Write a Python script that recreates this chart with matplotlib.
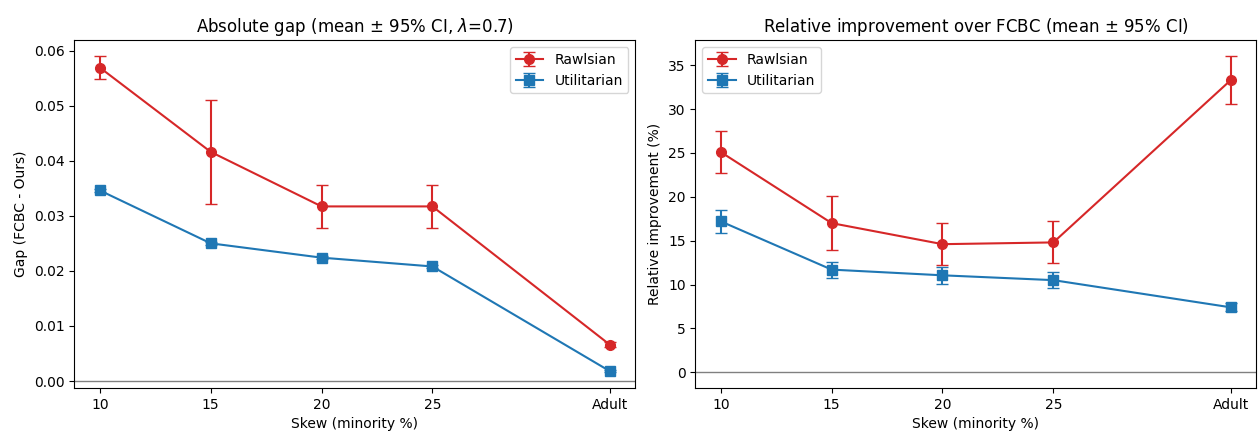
import numpy as np
import matplotlib.pyplot as plt

# skew levels; Adult is placed at its own minority share
skew = [10, 15, 20, 25, 33]
skew_labels = ['10', '15', '20', '25', 'Adult']

# absolute gap (FCBC - Ours)
gap_rawls = [0.0569, 0.0416, 0.0317, 0.0317, 0.0066]
gap_rawls_ci = [0.0021, 0.0095, 0.0039, 0.0039, 0.0004]
gap_util = [0.0346, 0.0250, 0.0224, 0.0208, 0.0018]
gap_util_ci = [0.0003, 0.0003, 0.0003, 0.0003, 0.0002]

# relative improvement over FCBC (%)
rel_rawls = [25.1, 17.0, 14.6, 14.8, 33.3]
rel_rawls_ci = [2.35, 3.1, 2.4, 2.4, 2.75]
rel_util = [17.2, 11.7, 11.05, 10.5, 7.4]
rel_util_ci = [1.35, 0.9, 0.95, 0.9, 0.45]

red = '#d62728'
blue = '#1f77b4'


def panel(ax, r, rci, u, uci, title, ylabel):
    ax.errorbar(skew, r, yerr=rci, color=red, marker='o', ms=7, lw=1.5,
                capsize=4, label='Rawlsian')
    ax.errorbar(skew, u, yerr=uci, color=blue, marker='s', ms=7, lw=1.5,
                capsize=4, label='Utilitarian')
    ax.axhline(0, color='gray', lw=1)
    ax.set_xticks(skew)
    ax.set_xticklabels(skew_labels)
    ax.set_xlabel('Skew (minority %)')
    ax.set_ylabel(ylabel)
    ax.set_title(title)


fig, (ax1, ax2) = plt.subplots(1, 2, figsize=(12.6, 4.37), dpi=100)
panel(ax1, gap_rawls, gap_rawls_ci, gap_util, gap_util_ci,
      r'Absolute gap (mean $\pm$ 95% CI, $\lambda$=0.7)', 'Gap (FCBC - Ours)')
ax1.legend(loc='upper right')
panel(ax2, rel_rawls, rel_rawls_ci, rel_util, rel_util_ci,
      r'Relative improvement over FCBC (mean $\pm$ 95% CI)', 'Relative improvement (%)')
ax2.legend(loc='upper left')

plt.subplots_adjust(left=0.059, right=0.997, top=0.908, bottom=0.112, wspace=0.107)
plt.savefig('out.png')
